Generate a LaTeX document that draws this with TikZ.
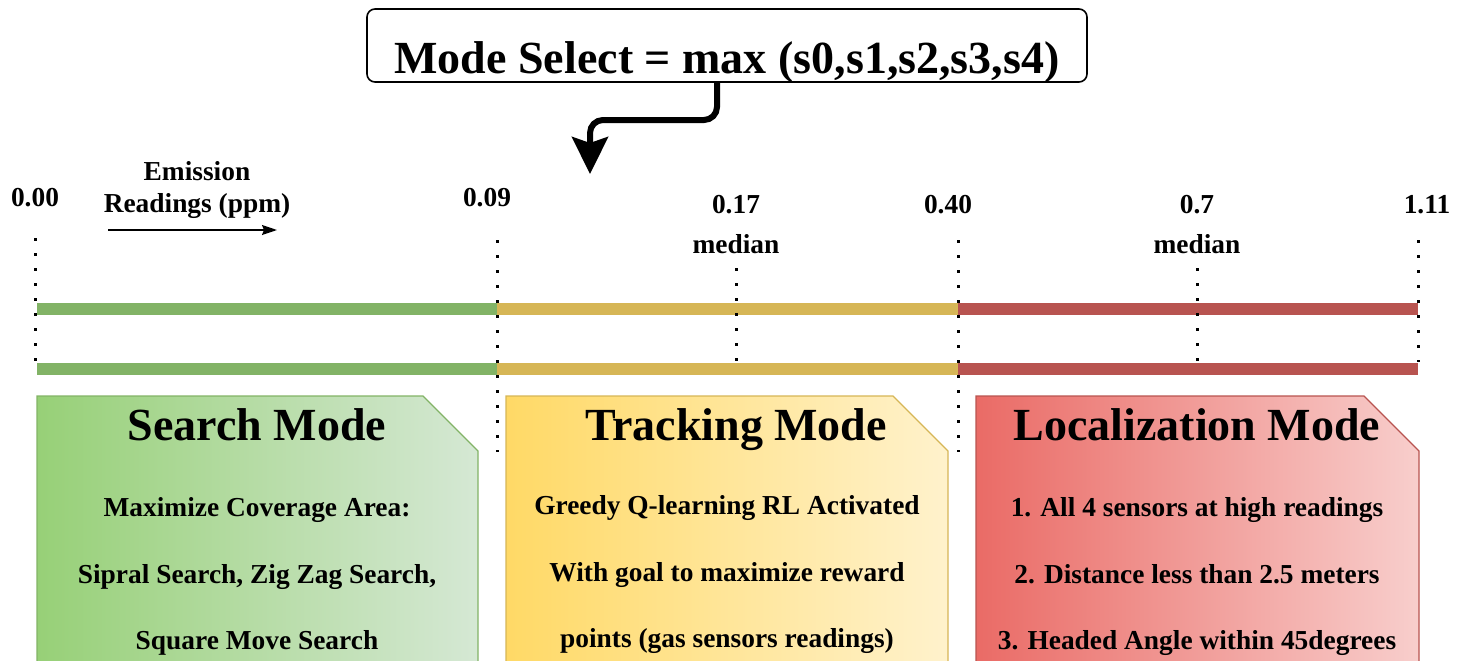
\documentclass[tikz,border=0pt]{standalone}
\usepackage{fontspec}
\setmainfont{Liberation Serif}
\usetikzlibrary{arrows.meta}
\definecolor{gStroke}{HTML}{82B366}
\definecolor{yStroke}{HTML}{D6B656}
\definecolor{rStroke}{HTML}{B85450}
\definecolor{gDark}{HTML}{97D077}
\definecolor{gLight}{HTML}{D5E8D4}
\definecolor{yDark}{HTML}{FFD966}
\definecolor{yLight}{HTML}{FFF2CC}
\definecolor{rDark}{HTML}{EA6B66}
\definecolor{rLight}{HTML}{F8CECC}
\begin{document}
\begin{tikzpicture}[x=1pt,y=-1pt,
  lbl/.style={font=\fontsize{27.4}{31}\selectfont\bfseries, inner sep=0pt, anchor=base},
  ttl/.style={font=\fontsize{46}{55}\selectfont\bfseries, inner sep=0pt, anchor=base},
  guide/.style={line width=3pt, dash pattern=on 3pt off 12pt},
  bar/.style={line width=12pt},
  modebox/.style={line width=1.3pt},
]
\useasboundingbox (0,0) rectangle (1464,661);

% selector box and its arrow
\node[draw, line width=1.6pt, rounded corners=8pt, minimum width=720pt, minimum height=73pt, inner sep=0pt] (sel) at (727,45.5) {};
\node[ttl] (seltxt) at (727,74) {Mode Select = max (s0,s1,s2,s3,s4)};
\coordinate (tgt) at (590,174);
\draw[line width=6pt, rounded corners=13pt, -{Stealth[length=37pt, width=36pt, inset=6pt]}]
  (sel.south -| 717,0) -- (717,120) -- (590,120) -- (tgt);

% axis caption
\node[lbl] (em1) at (197,180) {Emission};
\node[lbl] (em2) at (197,212) {Readings (ppm)};
\coordinate (ax0) at (108,230);
\coordinate (ax1) at (277,230);
\draw[line width=1.5pt, -{Stealth[length=15pt, width=10pt, inset=2pt]}] (ax0) -- (ax1);

% tick labels
\node[lbl] (t0) at (35,206) {0.00};
\node[lbl] (t1) at (487,206) {0.09};
\node[lbl] (t2) at (736,213) {0.17};
\node[lbl] (m1) at (736,253) {median};
\node[lbl] (t3) at (948,213) {0.40};
\node[lbl] (t4) at (1197,213) {0.7};
\node[lbl] (m2) at (1197,253) {median};
\node[lbl] (t5) at (1427,213) {1.11};

% coloured bars
\foreach \yy in {309,369} {
  \draw[bar, gStroke] (37,\yy) -- (497,\yy);
  \draw[bar, yStroke] (497,\yy) -- (958,\yy);
  \draw[bar, rStroke] (958,\yy) -- (1418,\yy);
}

% dotted guides
\draw[guide] (35,238) -- (35,362);
\draw[guide] (497,240) -- (497,452);
\draw[guide] (736,268) -- (736,362);
\draw[guide] (958,240) -- (958,452);
\draw[guide] (1197,268) -- (1197,362);
\draw[guide] (1418,240) -- (1418,362);

% mode cards (clipped top-right corner)
\shade[left color=gDark, right color=gLight] (37,662) -- (37,396) -- (423,396) -- (478,451) -- (478,662) -- cycle;
\draw[modebox, gStroke] (37,662) -- (37,396) -- (423,396) -- (478,451) -- (478,662);
\shade[left color=yDark, right color=yLight] (506,662) -- (506,396) -- (893,396) -- (948,451) -- (948,662) -- cycle;
\draw[modebox, yStroke] (506,662) -- (506,396) -- (893,396) -- (948,451) -- (948,662);
\shade[left color=rDark, right color=rLight] (976,662) -- (976,396) -- (1364,396) -- (1419,451) -- (1419,662) -- cycle;
\draw[modebox, rStroke] (976,662) -- (976,396) -- (1364,396) -- (1419,451) -- (1419,662);

% card texts
\node[ttl] (s0) at (257,440) {Search Mode};
\node[lbl] (s1) at (257,516) {Maximize Coverage Area:};
\node[lbl] (s2) at (257,583) {Sipral Search, Zig Zag Search,};
\node[lbl] (s3) at (257,649) {Square Move Search};

\node[ttl] (k0) at (736,440) {Tracking Mode};
\node[lbl] (k1) at (727,514) {Greedy Q-learning RL Activated};
\node[lbl] (k2) at (727,581) {With goal to maximize reward};
\node[lbl] (k3) at (727,647) {points (gas sensors readings)};

\node[ttl] (l0) at (1197,440) {Localization Mode};
\node[lbl] (l1) at (1197,516) {1. All 4 sensors at high readings};
\node[lbl] (l2) at (1197,583) {2. Distance less than 2.5 meters};
\node[lbl] (l3) at (1197,649) {3. Headed Angle within 45degrees};
\end{tikzpicture}
\end{document}
